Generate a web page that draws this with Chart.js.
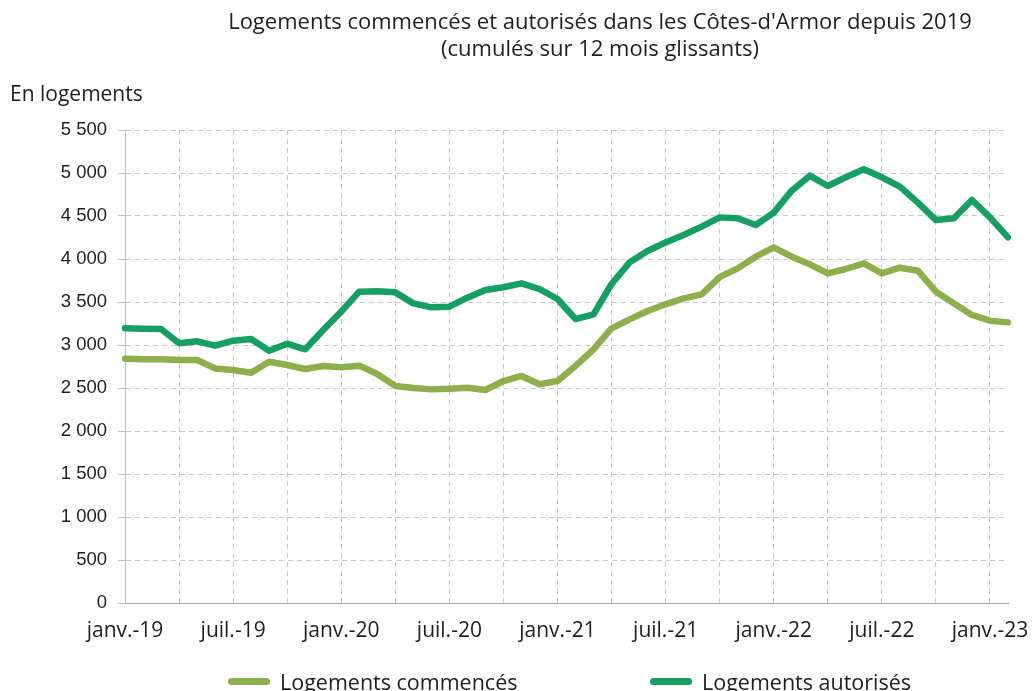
<!DOCTYPE html>
<html lang="fr">
<head>
<meta charset="utf-8">
<script src="https://cdn.jsdelivr.net/npm/chart.js@4"></script>
<style>
  body { margin: 0; background: #fff; }
  #wrap { position: relative; width: 1032px; height: 691px; overflow: hidden; font-family: "Open Sans", sans-serif; color: #1e1e1e; }
  #titre { position: absolute; left: 160px; width: 880px; top: 7px; text-align: center; font-size: 22px; line-height: 27px; }
  #unite { position: absolute; left: 10px; top: 79px; font-size: 21px; }
  #legende { position: absolute; top: 667px; left: 0; width: 1032px; font-size: 21.5px; }
  .item { position: absolute; display: flex; align-items: center; white-space: nowrap; }
  .trait { width: 42px; height: 7px; border-radius: 4px; margin-right: 10px; }
</style>
</head>
<body>
<div id="wrap">
  <canvas id="graphique" width="1032" height="691"></canvas>
  <div id="titre">Logements commencés et autorisés dans les Côtes-d'Armor depuis 2019<br>(cumulés sur 12 mois glissants)</div>
  <div id="unite">En logements</div>
  <div id="legende">
    <div class="item" style="left:228px"><span class="trait" style="background:#8db04c"></span>Logements commencés</div>
    <div class="item" style="left:650px"><span class="trait" style="background:#159f62"></span>Logements autorisés</div>
  </div>
</div>
<script>
const mois = [
  'janv.-19', 'févr.-19', 'mars-19', 'avr.-19', 'mai-19', 'juin-19', 'juil.-19', 'août-19', 'sept.-19', 'oct.-19', 'nov.-19', 'déc.-19',
  'janv.-20', 'févr.-20', 'mars-20', 'avr.-20', 'mai-20', 'juin-20', 'juil.-20', 'août-20', 'sept.-20', 'oct.-20', 'nov.-20', 'déc.-20',
  'janv.-21', 'févr.-21', 'mars-21', 'avr.-21', 'mai-21', 'juin-21', 'juil.-21', 'août-21', 'sept.-21', 'oct.-21', 'nov.-21', 'déc.-21',
  'janv.-22', 'févr.-22', 'mars-22', 'avr.-22', 'mai-22', 'juin-22', 'juil.-22', 'août-22', 'sept.-22', 'oct.-22', 'nov.-22', 'déc.-22',
  'janv.-23', 'févr.-23'
];

const commences = [
  2841, 2833, 2833, 2826, 2826, 2728, 2709, 2678, 2806, 2767, 2721, 2756,
  2740, 2760, 2663, 2523, 2500, 2484, 2492, 2504, 2477, 2581, 2640, 2543,
  2581, 2756, 2950, 3194, 3298, 3395, 3473, 3543, 3589, 3790, 3891, 4027,
  4136, 4027, 3938, 3833, 3884, 3950, 3833, 3899, 3864, 3620, 3484, 3349,
  3283, 3263
];

const autorises = [
  3194, 3190, 3186, 3020, 3043, 2992, 3050, 3070, 2934, 3015, 2950, 3174,
  3388, 3620, 3624, 3612, 3484, 3438, 3446, 3550, 3640, 3671, 3717, 3651,
  3535, 3302, 3357, 3709, 3961, 4093, 4193, 4279, 4376, 4484, 4473, 4395,
  4539, 4795, 4969, 4849, 4950, 5043, 4950, 4841, 4655, 4453, 4473, 4686,
  4484, 4252
];

const graduations = [0, 500, 1000, 1500, 2000, 2500, 3000, 3500, 4000, 4500, 5000, 5500];

const gris = '#c9c9c9';

const ctx = document.getElementById('graphique').getContext('2d');

new Chart(ctx, {
  type: 'line',
  data: {
    labels: mois,
    datasets: [
      {
        label: 'Logements commencés',
        data: commences,
        borderColor: '#8db04c',
        backgroundColor: '#8db04c',
        borderWidth: 6.5,
        pointRadius: 0,
        borderCapStyle: 'round',
        borderJoinStyle: 'round',
        tension: 0,
      },
      {
        label: 'Logements autorisés',
        data: autorises,
        borderColor: '#159f62',
        backgroundColor: '#159f62',
        borderWidth: 6.5,
        pointRadius: 0,
        borderCapStyle: 'round',
        borderJoinStyle: 'round',
        tension: 0,
      },
    ],
  },
  options: {
    responsive: false,
    animation: false,
    layout: { padding: { top: 130, right: 24, left: 0, bottom: 0 } },
    plugins: {
      legend: { display: false },
      title: { display: false },
      tooltip: { enabled: false },
    },
    scales: {
      x: {
        offset: false,
        grid: {
          color: (c) => (c.index % 3 === 0 ? gris : 'transparent'),
          drawTicks: false,
        },
        border: { display: true, color: '#a6a6a6', width: 1, dash: [5, 4] },
        ticks: {
          autoSkip: false,
          maxRotation: 0,
          padding: 15,
          color: '#1e1e1e',
          font: { family: 'Open Sans', size: 21 },
          callback: (v, i) => (i % 6 === 0 ? mois[i] : ''),
        },
        afterFit: (scale) => { scale.height = 88; },
      },
      y: {
        min: 0,
        max: 5500,
        afterBuildTicks: (scale) => { scale.ticks = graduations.map((v) => ({ value: v })); },
        grid: {
          color: gris,
          tickColor: '#bfbfbf',
          tickLength: 7,
          tickBorderDash: [],
        },
        border: { display: true, color: '#bfbfbf', width: 1, dash: [5, 4] },
        ticks: {
          padding: 11,
          color: '#1e1e1e',
          font: { family: 'Liberation Sans', size: 18.5 },
          callback: (v) => String(v).replace(/\B(?=(\d{3})+(?!\d))/g, ' '),
        },
        afterFit: (scale) => { scale.width = 125; },
      },
    },
  },
});
</script>
</body>
</html>
